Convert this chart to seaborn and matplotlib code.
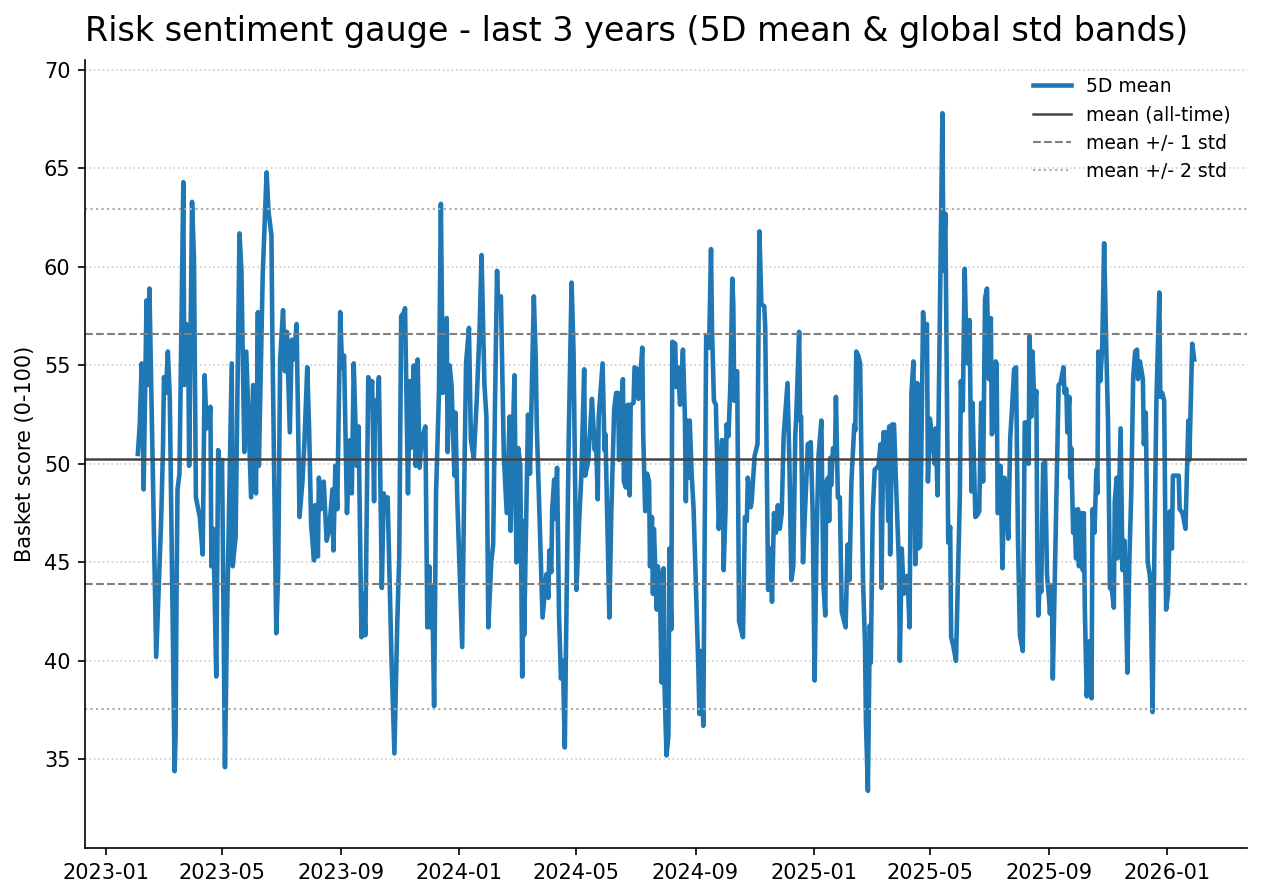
import pandas as pd
import numpy as np
import matplotlib
matplotlib.use("Agg")
import matplotlib.pyplot as plt
import matplotlib.dates as mdates
import seaborn as sns

# ============ DATA ============================================
START = "2023-01-01"
# days since START for each turning point of the 5D mean line
day_offsets = [
    33, 35, 37, 39, 42, 44, 45, 52, 57, 59, 60, 62, 64, 66, 71, 72, 73, 74, 76, 80,
    81, 83, 85, 86, 89, 91, 93, 97, 100, 102, 104, 106, 108, 109, 111, 114, 116, 118, 120, 123,
    125, 130, 131, 134, 138, 140, 143, 145, 147, 150, 152, 155, 157, 158, 162, 166, 168, 171, 172, 176,
    178, 180, 183, 185, 187, 190, 192, 194, 197, 200, 203, 205, 208, 210, 212, 215, 216, 219, 220, 222,
    225, 228, 230, 232, 234, 235, 237, 239, 242, 244, 246, 249, 252, 254, 256, 259, 261, 264, 266, 268,
    271, 273, 275, 277, 278, 280, 282, 285, 287, 289, 291, 295, 298, 301, 303, 305, 308, 309, 312, 314,
    315, 318, 320, 322, 324, 326, 330, 332, 334, 335, 337, 339, 341, 344, 346, 348, 350, 352, 353, 355,
    357, 360, 361, 363, 368, 370, 372, 375, 377, 380, 383, 386, 388, 391, 393, 395, 398, 400, 402, 404,
    405, 408, 411, 414, 417, 418, 420, 422, 424, 426, 428, 430, 431, 432, 436, 438, 442, 444, 445, 451,
    455, 457, 458, 460, 461, 463, 464, 466, 468, 470, 472, 474, 475, 478, 481, 483, 486, 489, 491, 494,
    495, 498, 500, 502, 505, 506, 508, 509, 513, 515, 516, 520, 522, 525, 527, 529, 530, 532, 534, 535,
    537, 539, 541, 542, 545, 546, 549, 550, 552, 554, 555, 557, 559, 561, 562, 564, 565, 566, 569, 570,
    572, 574, 576, 577, 579, 581, 582, 584, 585, 588, 589, 591, 593, 595, 596, 598, 599, 600, 602, 603,
    605, 607, 612, 613, 615, 617, 620, 622, 623, 625, 626, 628, 630, 633, 634, 636, 637, 638, 640, 641,
    643, 645, 647, 648, 649, 651, 652, 654, 655, 658, 660, 662, 663, 666, 667, 670, 673, 675, 677, 680,
    681, 684, 686, 688, 690, 692, 694, 696, 698, 700, 704, 706, 708, 710, 712, 713, 716, 717, 718, 720,
    722, 725, 728, 730, 732, 734, 736, 737, 739, 741, 743, 744, 746, 747, 748, 749, 751, 753, 754, 756,
    758, 760, 762, 764, 766, 768, 770, 773, 774, 775, 777, 779, 782, 784, 785, 787, 789, 790, 792, 794,
    796, 798, 800, 801, 803, 806, 808, 809, 810, 812, 814, 816, 819, 820, 822, 824, 826, 828, 830, 832,
    834, 836, 838, 839, 841, 844, 845, 848, 849, 851, 853, 856, 857, 859, 864, 865, 867, 870, 872, 873,
    875, 878, 882, 883, 885, 887, 889, 890, 892, 894, 895, 898, 900, 902, 904, 906, 908, 910, 912, 914,
    915, 917, 919, 920, 921, 923, 924, 926, 928, 930, 932, 934, 936, 938, 940, 942, 944, 947, 949, 952,
    953, 954, 956, 957, 959, 961, 962, 963, 965, 966, 968, 970, 972, 974, 975, 977, 978, 980, 982, 984,
    986, 989, 990, 992, 993, 995, 996, 997, 999, 1000, 1002, 1004, 1005, 1007, 1009, 1010, 1011, 1013, 1015, 1016,
    1018, 1019, 1021, 1023, 1024, 1025, 1027, 1029, 1031, 1033, 1035, 1037, 1039, 1041, 1042, 1044, 1045, 1048, 1050, 1052,
    1053, 1055, 1057, 1059, 1061, 1063, 1065, 1066, 1068, 1071, 1072, 1074, 1076, 1078, 1079, 1081, 1083, 1085, 1088, 1089,
    1091, 1093, 1095, 1097, 1099, 1101, 1102, 1108, 1109, 1112, 1115, 1118, 1119, 1122, 1124,
]
score_5d = [
    50.5, 52.0, 55.1, 48.7, 58.3, 54.0, 58.9, 40.2, 47.0, 50.8, 54.4, 53.6, 55.7, 53.4, 34.4, 36.2, 43.4, 48.7, 49.5, 64.3,
    54.0, 57.1, 56.7, 49.9, 63.3, 60.4, 48.3, 47.3, 45.4, 54.5, 51.8, 51.9, 52.9, 44.8, 46.7, 39.2, 50.7, 49.1, 50.2, 34.6,
    41.8, 55.1, 44.8, 46.3, 61.7, 59.8, 50.6, 55.7, 52.8, 48.3, 54.0, 48.5, 57.7, 49.9, 59.6, 64.8, 62.8, 61.6, 56.3, 41.4,
    44.6, 55.3, 57.8, 54.7, 56.7, 51.6, 56.3, 55.3, 57.1, 47.3, 49.1, 51.0, 54.9, 51.6, 46.9, 45.1, 47.9, 45.3, 49.3, 47.7,
    49.1, 46.1, 46.5, 47.5, 48.7, 45.6, 49.9, 47.7, 57.7, 54.9, 55.5, 47.5, 51.2, 48.5, 55.1, 49.9, 51.9, 41.2, 43.4, 41.3,
    54.4, 53.4, 54.2, 48.1, 53.2, 52.2, 54.4, 43.7, 48.5, 47.7, 48.3, 40.1, 35.3, 42.0, 45.3, 57.5, 57.7, 57.9, 48.5, 54.2,
    50.8, 55.0, 49.9, 55.3, 49.8, 51.2, 51.9, 41.7, 44.8, 41.7, 43.8, 37.7, 48.5, 53.6, 63.2, 53.6, 54.4, 57.4, 50.6, 55.0,
    54.0, 49.4, 52.6, 48.1, 40.7, 48.5, 55.1, 56.9, 51.2, 50.3, 53.2, 56.9, 60.6, 54.0, 52.4, 41.7, 45.0, 45.9, 53.4, 59.8,
    58.3, 58.5, 50.4, 47.5, 52.4, 46.6, 50.8, 54.5, 45.0, 50.8, 49.9, 39.2, 47.1, 41.3, 52.5, 49.5, 58.5, 55.3, 52.0, 42.2,
    44.4, 43.2, 45.6, 44.5, 47.7, 49.2, 47.2, 49.8, 42.4, 39.1, 40.0, 35.6, 39.9, 51.2, 59.2, 55.7, 43.6, 47.3, 49.3, 54.8,
    49.4, 50.1, 51.6, 53.3, 50.7, 51.6, 48.2, 52.4, 55.1, 50.7, 51.5, 42.2, 47.5, 52.8, 53.6, 53.6, 50.2, 52.4, 54.3, 49.1,
    48.8, 53.0, 48.4, 53.0, 53.1, 54.9, 54.8, 53.3, 54.4, 55.9, 51.4, 47.6, 49.5, 49.1, 44.8, 47.3, 43.4, 46.7, 42.6, 44.8,
    44.2, 38.9, 44.7, 38.7, 35.2, 36.2, 45.7, 41.6, 56.2, 56.1, 53.9, 54.9, 53.0, 54.9, 55.8, 52.4, 48.1, 52.2, 49.3, 52.2,
    49.5, 47.7, 39.5, 37.3, 40.5, 36.7, 56.5, 56.5, 55.9, 60.9, 56.9, 53.2, 53.0, 46.7, 47.7, 51.2, 51.2, 44.6, 47.7, 52.0,
    51.4, 54.0, 59.4, 58.1, 53.2, 54.7, 54.7, 42.0, 41.8, 41.2, 47.3, 47.1, 49.3, 47.8, 48.1, 50.4, 51.0, 61.8, 58.1, 58.0,
    56.9, 43.6, 45.7, 43.0, 47.5, 46.5, 47.9, 46.7, 47.5, 51.4, 54.1, 49.9, 44.1, 44.8, 51.4, 52.4, 56.7, 52.2, 52.4, 45.0,
    47.5, 51.0, 51.1, 47.5, 39.0, 46.1, 50.4, 51.0, 52.2, 44.0, 42.3, 49.1, 49.3, 47.1, 50.3, 48.9, 50.8, 50.4, 53.4, 48.3,
    48.3, 42.5, 42.1, 41.7, 45.9, 44.1, 49.1, 52.0, 51.7, 55.7, 55.5, 55.1, 44.0, 40.9, 36.9, 33.4, 41.8, 39.9, 47.5, 49.7,
    49.8, 49.9, 51.0, 43.7, 51.6, 51.6, 47.1, 51.9, 45.4, 52.0, 52.0, 49.1, 45.0, 40.0, 45.7, 43.4, 44.3, 44.3, 41.7, 53.6,
    55.2, 44.9, 54.1, 45.7, 45.8, 57.7, 56.7, 57.1, 49.1, 52.3, 51.5, 50.0, 51.8, 48.4, 67.8, 59.8, 62.7, 46.0, 46.8, 41.2,
    40.8, 40.0, 48.4, 54.2, 52.7, 59.9, 55.3, 55.1, 57.3, 48.6, 53.1, 47.3, 47.4, 47.6, 53.1, 49.1, 58.4, 58.9, 54.3, 57.4,
    51.5, 51.8, 55.2, 55.1, 47.5, 47.6, 49.9, 44.7, 49.3, 48.4, 46.2, 51.3, 52.9, 54.8, 54.9, 46.2, 41.3, 40.5, 52.1, 52.1,
    50.0, 56.5, 52.4, 55.7, 52.9, 53.7, 45.3, 42.3, 44.6, 43.5, 50.0, 50.1, 44.4, 43.2, 42.4, 43.8, 39.1, 44.0, 49.1, 54.0,
    54.1, 54.9, 53.6, 53.8, 51.6, 53.4, 49.3, 50.8, 46.5, 47.7, 45.2, 47.7, 44.8, 47.5, 44.6, 47.5, 42.8, 38.2, 39.7, 41.0,
    38.1, 47.7, 46.5, 49.7, 48.5, 55.7, 54.2, 55.9, 61.2, 56.3, 52.2, 43.7, 43.6, 42.7, 48.1, 49.3, 45.2, 51.8, 44.6, 46.1,
    44.2, 39.4, 45.0, 48.5, 54.4, 55.7, 55.8, 54.3, 55.2, 54.3, 51.0, 52.6, 45.0, 44.4, 43.8, 37.4, 46.1, 53.2, 58.7, 53.4,
    53.6, 53.2, 42.6, 43.4, 47.6, 45.7, 49.4, 49.4, 47.7, 47.5, 46.7, 52.2, 50.2, 56.1, 55.3,
]
# all-time statistics (computed on the full history, not only the last 3 years)
mean_all = 50.25
std_all = 6.35
# ==================================

dates = pd.Timestamp(START) + pd.to_timedelta(day_offsets, unit="D")
df = pd.DataFrame({"date": dates, "score": score_5d})

fig = plt.figure(figsize=(1262 / 150, 896 / 150), dpi=150)
ax = fig.add_axes([85 / 1262, 1 - 848 / 896, (1247 - 85) / 1262, (848 - 60) / 896])

sns.lineplot(data=df, x="date", y="score", ax=ax, color="#1f77b4", linewidth=2.2,
             label="5D mean", estimator=None)

ax.axhline(mean_all, color="#444444", linewidth=1.2, label="mean (all-time)")
ax.axhline(mean_all + std_all, color="gray", linestyle="--", linewidth=1.0, label="mean +/- 1 std")
ax.axhline(mean_all - std_all, color="gray", linestyle="--", linewidth=1.0)
ax.axhline(mean_all + 2 * std_all, color="#aaaaaa", linestyle=":", linewidth=1.0, label="mean +/- 2 std")
ax.axhline(mean_all - 2 * std_all, color="#aaaaaa", linestyle=":", linewidth=1.0)

ax.set_ylim(30.5, 70.5)
ax.set_yticks(np.arange(35, 71, 5))
ax.xaxis.set_major_locator(mdates.MonthLocator(bymonth=[1, 5, 9]))
ax.xaxis.set_major_formatter(mdates.DateFormatter("%Y-%m"))
ax.grid(axis="y", linestyle=":", color="#cccccc", linewidth=0.8)
ax.set_axisbelow(True)

ax.set_title("Risk sentiment gauge - last 3 years (5D mean & global std bands)",
             loc="left", fontsize=16, pad=9)
ax.set_xlabel("")
ax.set_ylabel("Basket score (0-100)")
ax.legend(loc="upper right", frameon=False, fontsize=9)
sns.despine(ax=ax)

fig.savefig("out.png", dpi=150)
